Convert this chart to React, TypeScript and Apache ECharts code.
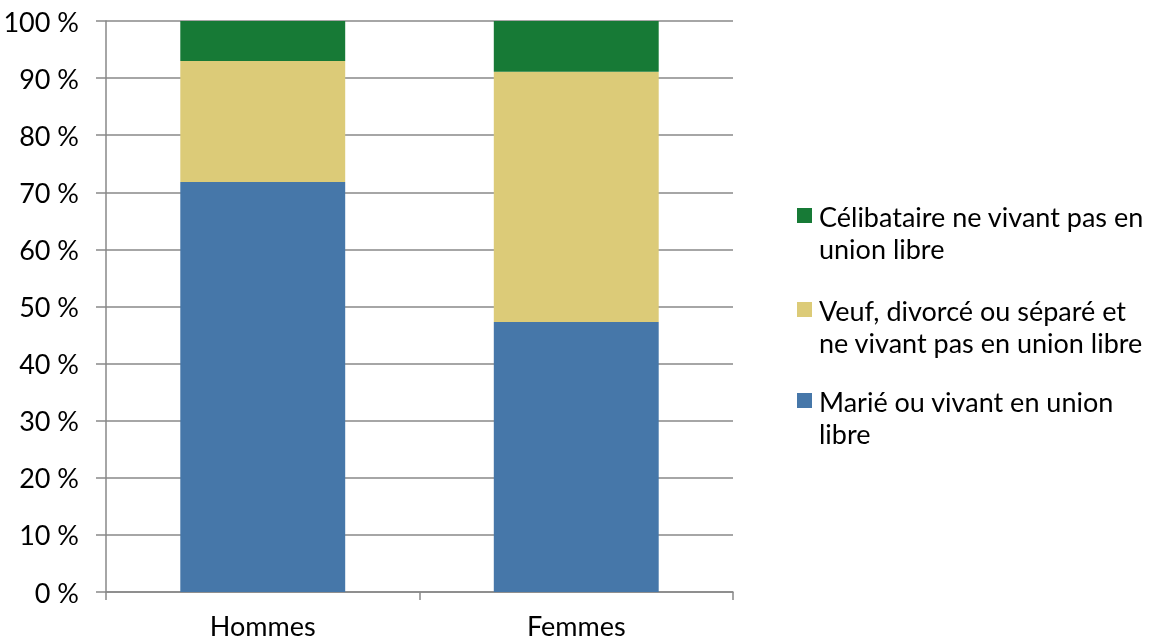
import React, { useEffect, useRef } from "react";
import * as echarts from "echarts";

const categories = ["Hommes", "Femmes"];
const seriesNames = [
  "Marié ou vivant en union libre",
  "Veuf, divorcé ou séparé et ne vivant pas en union libre",
  "Célibataire ne vivant pas en union libre",
];
const legendLines = [
  ["Marié ou vivant en union", "libre"],
  ["Veuf, divorcé ou séparé et", "ne vivant pas en union libre"],
  ["Célibataire ne vivant pas en", "union libre"],
];
const marie = [71.8, 47.3];
const veuf = [21.2, 43.8];
const celib = [7.0, 8.9];
const colors = ["#4677A9", "#DCCB78", "#177A36"];
const yTicks = [0, 10, 20, 30, 40, 50, 60, 70, 80, 90, 100];

const FONT = "Lato, 'Open Sans', sans-serif";
const FS = 27;

export default function App() {
  const ref = useRef<HTMLDivElement>(null);
  useEffect(() => {
    if (!ref.current) return;
    const chart = echarts.init(ref.current, undefined, { renderer: "svg" });
    const values = [marie, veuf, celib];
    const legendOrder = [2, 1, 0];
    const legendGraphics: any[] = [];
    const firstLineY = [216, 310, 401];
    legendOrder.forEach((si, k) => {
      const cy = firstLineY[k];
      legendGraphics.push({
        type: "rect",
        shape: { x: 797, y: cy - 8, width: 15, height: 15 },
        style: { fill: colors[si] },
      });
      legendLines[si].forEach((line, li) => {
        legendGraphics.push({
          type: "text",
          x: 819,
          y: cy + li * 32,
          style: {
            text: line,
            fill: "#000",
            font: `${FS}px ${FONT}`,
            verticalAlign: "middle",
            align: "left",
          },
        });
      });
    });
    chart.setOption({
      animation: false,
      grid: { left: 106, right: 426, top: 21, bottom: 49, containLabel: false },
      xAxis: {
        type: "category",
        data: categories,
        axisLine: { show: true, lineStyle: { color: "#888", width: 1.5 } },
        axisTick: { show: true, length: 8, lineStyle: { color: "#888", width: 1.5 } },
        axisLabel: { color: "#000", fontSize: FS, fontFamily: FONT, margin: 20 },
      },
      yAxis: {
        type: "value",
        min: 0,
        max: 100,
        interval: 10,
        axisLine: { show: true, lineStyle: { color: "#888", width: 1.5 } },
        axisTick: { show: true, length: 10, lineStyle: { color: "#888", width: 1.5 } },
        splitLine: { show: true, lineStyle: { color: "#888", width: 1.5 } },
        axisLabel: {
          color: "#000",
          fontSize: FS,
          fontFamily: FONT,
          margin: 27,
          formatter: (v: number) => (yTicks.includes(v) ? `${v} %` : ""),
        },
      },
      series: values.map((d, i) => ({
        name: seriesNames[i],
        type: "bar",
        stack: "total",
        data: d,
        barWidth: "52.6%",
        itemStyle: { color: colors[i] },
      })),
      graphic: legendGraphics,
    });
    return () => chart.dispose();
  }, []);
  return (
    <div
      ref={ref}
      style={{ position: "fixed", left: 0, top: 0, width: 1159, height: 641 }}
    />
  );
}
